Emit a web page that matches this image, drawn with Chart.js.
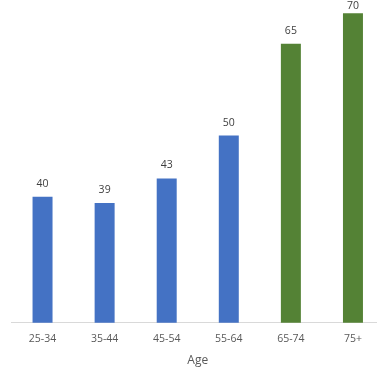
<!DOCTYPE html>
<html>
<head>
<meta charset="utf-8">
<script src="https://cdn.jsdelivr.net/npm/chart.js@4/dist/chart.umd.min.js"></script>
<style>
html,body{margin:0;padding:0;background:#fff;overflow:hidden;}
#wrap{position:absolute;left:0;top:0;width:390px;height:376px;}
</style>
</head>
<body>
<div id="wrap"><canvas id="c" width="390" height="376"></canvas></div>
<script>
const categories = ["25-34", "35-44", "45-54", "55-64", "65-74", "75+"];
const values = [40, 39, 43, 50, 65, 70];
const barColors = ["#4472C4", "#4472C4", "#4472C4", "#4472C4", "#548235", "#548235"];
const axisTitle = "Age";

const valueLabels = {
  id: 'valueLabels',
  afterDatasetsDraw(chart) {
    const ctx = chart.ctx;
    const meta = chart.getDatasetMeta(0);
    ctx.save();
    ctx.font = '10.5px "Open Sans"';
    ctx.fillStyle = '#404040';
    ctx.textAlign = 'center';
    ctx.textBaseline = 'middle';
    meta.data.forEach((bar, i) => {
      ctx.fillText(String(values[i]), bar.x, Math.max(bar.y - 13, 6));
    });
    ctx.restore();
  }
};

new Chart(document.getElementById('c'), {
  type: 'bar',
  data: {
    labels: categories,
    datasets: [{
      data: values,
      backgroundColor: barColors,
      barPercentage: 0.322,
      categoryPercentage: 1.0
    }]
  },
  options: {
    responsive: false,
    animation: false,
    devicePixelRatio: 1,
    layout: { padding: { left: 11.5, right: 6, top: 1, bottom: 4.2 } },
    plugins: { legend: { display: false }, tooltip: { enabled: false } },
    scales: {
      x: {
        grid: { display: false, drawTicks: false },
        border: { display: true, color: '#D9D9D9', width: 1 },
        ticks: { color: '#595959', font: { family: 'Open Sans', size: 10.5 }, padding: 10, maxRotation: 0 },
        title: { display: true, text: axisTitle, color: '#595959', font: { family: 'Open Sans', size: 12 }, padding: { top: -2, bottom: 4 } }
      },
      y: {
        display: false,
        min: 19.4,
        max: 72
      }
    }
  },
  plugins: [valueLabels]
});
</script>
</body>
</html>
